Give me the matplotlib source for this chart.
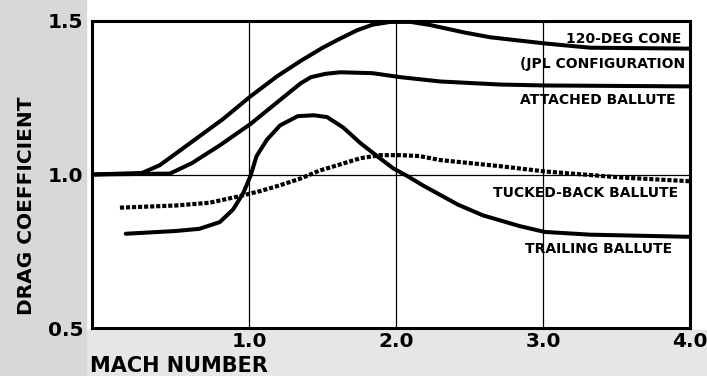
import numpy as np
import matplotlib
matplotlib.use("Agg")
import matplotlib.pyplot as plt
from matplotlib.patches import Rectangle

# valeurs (nombre de Mach, coefficient de traînée)
cone_mach = [-0.07, 0.27, 0.39, 0.52, 0.62, 0.82, 1.01, 1.19, 1.35, 1.50, 1.62,
             1.735, 1.84, 1.96, 2.10, 2.23, 2.46, 2.64, 3.01, 3.32, 4.0]
cone_cd = [1.0, 1.005, 1.03, 1.075, 1.11, 1.18, 1.255, 1.32, 1.37, 1.413, 1.443,
           1.47, 1.488, 1.497, 1.497, 1.487, 1.463, 1.447, 1.427, 1.413, 1.41]

attached_mach = [-0.07, 0.46, 0.61, 0.80, 1.01, 1.28, 1.35, 1.42, 1.52, 1.62,
                 1.84, 2.03, 2.30, 2.71, 3.01, 4.0]
attached_cd = [1.0, 1.003, 1.037, 1.095, 1.165, 1.27, 1.297, 1.317, 1.328, 1.333,
               1.33, 1.317, 1.303, 1.293, 1.29, 1.287]

trailing_mach = [0.16, 0.50, 0.66, 0.80, 0.89, 0.96, 1.01, 1.05, 1.12, 1.21, 1.33,
                 1.44, 1.53, 1.64, 1.755, 1.87, 1.98, 2.08, 2.18, 2.42, 2.59, 2.84,
                 3.01, 3.32, 4.0]
trailing_cd = [0.807, 0.816, 0.823, 0.845, 0.886, 0.94, 0.997, 1.06, 1.113, 1.16,
               1.19, 1.193, 1.187, 1.153, 1.103, 1.06, 1.02, 0.994, 0.965, 0.902,
               0.867, 0.832, 0.813, 0.804, 0.797]

tucked_mach = [0.12, 0.50, 0.73, 0.94, 1.075, 1.21, 1.35, 1.48, 1.62, 1.755, 1.89,
               2.03, 2.16, 2.30, 2.71, 3.01, 3.54, 4.0]
tucked_cd = [0.892, 0.899, 0.908, 0.93, 0.946, 0.965, 0.987, 1.013, 1.033, 1.053,
             1.063, 1.063, 1.06, 1.047, 1.027, 1.01, 0.99, 0.978]

xticks = [1.0, 2.0, 3.0, 4.0]
yticks = [0.5, 1.0, 1.5]

fig = plt.figure(figsize=(7.07, 3.76), dpi=100)
# fond gris du scan (gauche et bas)
fig.patches.append(Rectangle((0, 0), 1, 46 / 376, transform=fig.transFigure,
                             color='#e6e6e6', zorder=-6))
fig.patches.append(Rectangle((0, 0), 0.122, 1, transform=fig.transFigure,
                             color='#d8d8d8', zorder=-5))
ax = fig.add_axes([92 / 707, 1 - 328 / 376, (690 - 92) / 707, (328 - 21) / 376])

lw = 2.9
ax.plot(cone_mach, cone_cd, color='black', lw=lw, solid_capstyle='butt')
ax.plot(attached_mach, attached_cd, color='black', lw=lw, solid_capstyle='butt')
ax.plot(trailing_mach, trailing_cd, color='black', lw=lw, solid_capstyle='round')
ax.plot(tucked_mach, tucked_cd, color='black', lw=3.0, linestyle=(0, (1, 0.45)),
        dash_capstyle='butt')

ax.set_xlim(-0.07, 4.0)
ax.set_ylim(0.5, 1.5)
ax.set_xticks(xticks)
ax.set_yticks(yticks)
ax.set_xticklabels([f'{v:.1f}' for v in xticks], fontsize=14.5, fontweight='bold')
ax.set_yticklabels([f'{v:.1f}' for v in yticks], fontsize=14.5, fontweight='bold')
ax.tick_params(axis='x', length=0, pad=3)
ax.tick_params(axis='y', length=0, pad=6)
ax.grid(color='black', lw=0.9)
for s in ax.spines.values():
    s.set_linewidth(2.2)

lab = dict(fontsize=10, fontweight='bold', va='center')
ax.text(3.94, 1.44, '120-DEG CONE', ha='right', **lab)
ax.text(2.844, 1.36, '(JPL CONFIGURATION', ha='left', clip_on=True, **lab)
ax.text(2.844, 1.243, 'ATTACHED BALLUTE', ha='left', **lab)
ax.text(2.66, 0.94, 'TUCKED-BACK BALLUTE', ha='left', **lab)
ax.text(2.878, 0.756, 'TRAILING BALLUTE', ha='left', **lab)

fig.text(90 / 707, 1 - 366 / 376, 'MACH NUMBER', fontsize=15, fontweight='bold',
         ha='left', va='center')
fig.text(27 / 707, 1 - 206 / 376, 'DRAG COEFFICIENT', fontsize=14.5, fontweight='bold',
         rotation=90, ha='center', va='center')

fig.savefig('out.png', dpi=100)
